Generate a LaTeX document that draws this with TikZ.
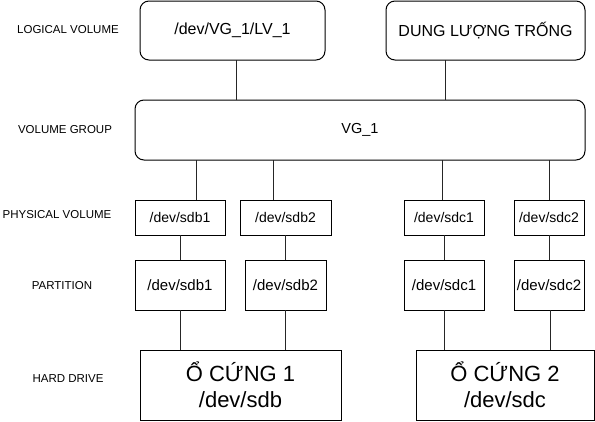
\documentclass[tikz,border=0pt]{standalone}
\usepackage{fontspec}
\setmainfont{Liberation Sans}
\begin{document}
\begin{tikzpicture}[x=1pt,y=-1pt,
  box/.style={draw=black,line width=1pt,inner sep=0pt,outer sep=0pt,anchor=center},
  rbox/.style={box,rounded corners=9pt},
  lbl/.style={font=\fontsize{11.5}{13}\selectfont,inner sep=0pt},
  conn/.style={draw=black!85,line width=1pt}]
\useasboundingbox (0,0) rectangle (595,421);
% left labels
\node[lbl] (tLV) at (68,30) {LOGICAL VOLUME};
\node[lbl] (tVG) at (65,130) {VOLUME GROUP};
\node[lbl] (tPV) at (57,215) {PHYSICAL VOLUME};
\node[lbl] (tPA) at (62,286) {PARTITION};
\node[lbl] (tHD) at (68,379) {HARD DRIVE};
% logical volumes
\node[rbox,minimum width=185pt,minimum height=59pt,font=\fontsize{16}{19}\selectfont] (lv) at (232.5,30.5) {/dev/VG\_1/LV\_1};
\node[rbox,minimum width=199pt,minimum height=59pt,font=\fontsize{16}{19}\selectfont] (free) at (485.5,30.5) {DUNG LƯỢNG TRỐNG};
% volume group
\node[rbox,minimum width=450pt,minimum height=60pt,font=\fontsize{14.5}{17}\selectfont] (vg) at (360,130) {VG\_1};
% physical volumes
\begin{scope}[every node/.append style={box,minimum height=35pt,font=\fontsize{14}{17}\selectfont}]
\node[minimum width=90pt] (pvb1) at (180,217.5) {/dev/sdb1};
\node[minimum width=91pt] (pvb2) at (285.5,217.5) {/dev/sdb2};
\node[minimum width=80pt] (pvc1) at (444,217.5) {/dev/sdc1};
\node[minimum width=70pt] (pvc2) at (549,217.5) {/dev/sdc2};
\end{scope}
% partitions
\begin{scope}[every node/.append style={box,minimum height=50pt,font=\fontsize{15}{18}\selectfont}]
\node[minimum width=90pt] (pab1) at (180,285) {/dev/sdb1};
\node[minimum width=81pt] (pab2) at (285.5,285) {/dev/sdb2};
\node[minimum width=80pt] (pac1) at (444,285) {/dev/sdc1};
\node[minimum width=70pt] (pac2) at (549,285) {/dev/sdc2};
\end{scope}
% hard drives
\begin{scope}[every node/.append style={box,minimum height=70pt,align=center,font=\fontsize{22}{26}\selectfont}]
\node[minimum width=201pt] (hd1) at (240.5,385) {Ổ CỨNG 1\\/dev/sdb};
\node[minimum width=178pt] (hd2) at (505,385) {Ổ CỨNG 2\\/dev/sdc};
\end{scope}
% connectors
\draw[conn] (lv.south -| 236,0) -- (vg.north -| 236,0);
\draw[conn] (free.south -| 445,0) -- (vg.north -| 445,0);
\draw[conn] (vg.south -| 196,0) -- (pvb1.north -| 196,0);
\draw[conn] (vg.south -| 273,0) -- (pvb2.north -| 273,0);
\draw[conn] (vg.south -| 442,0) -- (pvc1.north -| 442,0);
\draw[conn] (vg.south -| 549,0) -- (pvc2.north -| 549,0);
\draw[conn] (pvb1.south) -- (pab1.north);
\draw[conn] (pvb2.south -| 285,0) -- (pab2.north -| 285,0);
\draw[conn] (pvc1.south) -- (pac1.north);
\draw[conn] (pvc2.south) -- (pac2.north);
\draw[conn] (pab1.south) -- (pab1.south |- hd1.north);
\draw[conn] (pab2.south -| 285,0) -- (hd1.north -| 285,0);
\draw[conn] (pac1.south) -- (pac1.south |- hd2.north);
\draw[conn] (pac2.south -| 550,0) -- (hd2.north -| 550,0);
\end{tikzpicture}
\end{document}
